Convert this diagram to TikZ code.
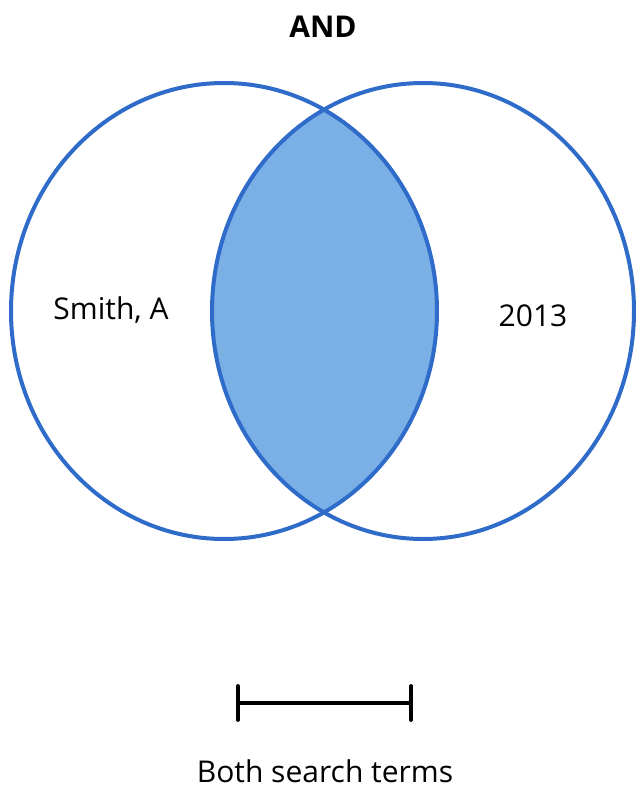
\documentclass[tikz,border=0pt]{standalone}
\usepackage{fontspec}
\setmainfont{Open Sans}
\usetikzlibrary{arrows.meta}
\definecolor{setblue}{HTML}{2F6BC9}
\definecolor{lensblue}{HTML}{7AB0E6}
\begin{document}
\begin{tikzpicture}[x=1pt,y=-1pt,
	setline/.style={ draw=setblue, line width=4pt },
	lens/.style={ fill=lensblue },
	label/.style={ font=\fontsize{30}{36}\selectfont, inner sep=0pt },
	span/.style={ line width=3.8pt, line cap=round, {Bar[width=34pt,line cap=round]}-{Bar[width=34pt,line cap=round]} }
]
\useasboundingbox (0,0) rectangle (636,790);

% the two sets and their overlap
\begin{scope}
	\clip (224,311) ellipse [x radius=213, y radius=228];
	\fill[lens] (423,311) ellipse [x radius=211, y radius=228];
\end{scope}
\draw[setline] (224,311) ellipse [x radius=213, y radius=228];
\draw[setline] (423,311) ellipse [x radius=211, y radius=228];

\node at (323,27) (op) [label,font=\fontsize{30}{36}\selectfont\bfseries] {AND};
\node at (111,310) (termA) [label] {Smith, A};
\node at (533,316) (termB) [label] {2013};

% the bracket and its caption
\coordinate (spanL) at (236,703);
\coordinate (spanR) at (413,703);
\draw[span] (spanL) -- (spanR);
\node at (325,771) (both) [label] {Both search terms};

\end{tikzpicture}
\end{document}
